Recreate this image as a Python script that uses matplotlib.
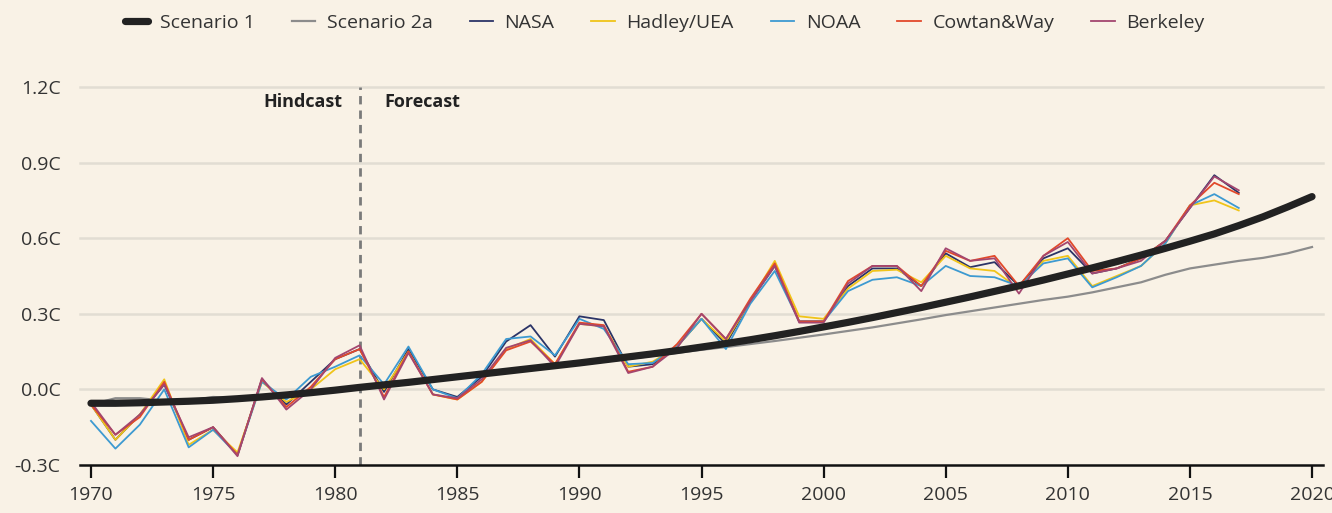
import matplotlib
matplotlib.use("Agg")
import matplotlib.pyplot as plt

plt.rcParams['font.family'] = ['Open Sans', 'DejaVu Sans']

years_obs = list(range(1970, 2018))
years_model = list(range(1970, 2021))

scenario_1 = [-0.055, -0.055, -0.053, -0.050, -0.047, -0.043, -0.037, -0.030, -0.022, -0.013,
              -0.003, 0.008, 0.018, 0.028, 0.039, 0.050, 0.061, 0.072, 0.083, 0.094,
              0.105, 0.117, 0.129, 0.141, 0.154, 0.168, 0.182, 0.197, 0.213, 0.230,
              0.248, 0.266, 0.285, 0.305, 0.325, 0.346, 0.367, 0.389, 0.411, 0.434,
              0.458, 0.482, 0.507, 0.533, 0.560, 0.588, 0.617, 0.650, 0.685, 0.724,
              0.765]

scenario_2a = [-0.060, -0.035, -0.035, -0.045, -0.045, -0.030, -0.035, -0.030, -0.020, -0.012,
               -0.003, 0.007, 0.016, 0.026, 0.036, 0.046, 0.056, 0.066, 0.077, 0.088,
               0.099, 0.110, 0.121, 0.133, 0.145, 0.157, 0.168, 0.180, 0.192, 0.205,
               0.218, 0.232, 0.246, 0.262, 0.278, 0.295, 0.310, 0.325, 0.340, 0.355,
               0.368, 0.385, 0.405, 0.425, 0.455, 0.480, 0.495, 0.510, 0.522, 0.540,
               0.565]

nasa = [-0.06, -0.20, -0.10, 0.02, -0.20, -0.15, -0.26, 0.04, -0.06, 0.03,
        0.12, 0.16, -0.01, 0.16, 0.00, -0.03, 0.05, 0.19, 0.255, 0.13,
        0.29, 0.275, 0.09, 0.10, 0.17, 0.28, 0.18, 0.35, 0.49, 0.27,
        0.27, 0.41, 0.48, 0.48, 0.41, 0.54, 0.485, 0.505, 0.41, 0.52,
        0.56, 0.46, 0.48, 0.52, 0.59, 0.72, 0.85, 0.78]

hadley = [-0.06, -0.20, -0.10, 0.04, -0.22, -0.16, -0.25, 0.03, -0.05, 0.00,
          0.08, 0.12, 0.00, 0.15, -0.02, -0.04, 0.03, 0.16, 0.20, 0.10,
          0.26, 0.25, 0.09, 0.11, 0.17, 0.28, 0.19, 0.35, 0.51, 0.29,
          0.28, 0.40, 0.47, 0.475, 0.425, 0.53, 0.48, 0.47, 0.40, 0.51,
          0.53, 0.41, 0.45, 0.49, 0.58, 0.73, 0.75, 0.71]

noaa = [-0.125, -0.235, -0.14, 0.00, -0.23, -0.16, -0.26, 0.03, -0.04, 0.05,
        0.09, 0.135, 0.02, 0.17, 0.00, -0.035, 0.06, 0.20, 0.21, 0.135,
        0.28, 0.24, 0.10, 0.105, 0.17, 0.28, 0.16, 0.34, 0.47, 0.27,
        0.27, 0.39, 0.435, 0.445, 0.41, 0.49, 0.45, 0.445, 0.41, 0.50,
        0.52, 0.405, 0.445, 0.49, 0.58, 0.73, 0.775, 0.72]

cowtan_way = [-0.06, -0.18, -0.11, 0.03, -0.20, -0.15, -0.26, 0.04, -0.07, 0.01,
              0.12, 0.16, -0.03, 0.15, -0.02, -0.04, 0.03, 0.155, 0.19, 0.10,
              0.265, 0.255, 0.07, 0.09, 0.18, 0.30, 0.20, 0.36, 0.50, 0.27,
              0.27, 0.43, 0.49, 0.49, 0.41, 0.55, 0.51, 0.53, 0.41, 0.53,
              0.60, 0.47, 0.48, 0.52, 0.59, 0.73, 0.82, 0.775]

berkeley = [-0.05, -0.18, -0.10, 0.02, -0.19, -0.15, -0.265, 0.045, -0.08, 0.00,
            0.125, 0.175, -0.04, 0.145, -0.02, -0.035, 0.04, 0.165, 0.195, 0.09,
            0.26, 0.25, 0.065, 0.09, 0.165, 0.30, 0.20, 0.35, 0.49, 0.265,
            0.265, 0.42, 0.49, 0.49, 0.39, 0.56, 0.51, 0.52, 0.38, 0.53,
            0.585, 0.46, 0.48, 0.51, 0.59, 0.72, 0.845, 0.79]

observed = [
    ("NASA", nasa, "#2b3467"),
    ("Hadley/UEA", hadley, "#f0c419"),
    ("NOAA", noaa, "#3d9ad1"),
    ("Cowtan&Way", cowtan_way, "#e2492b"),
    ("Berkeley", berkeley, "#a3466f"),
]

y_ticks = [-0.3, 0.0, 0.3, 0.6, 0.9, 1.2]
y_tick_labels = ["-0.3C", "0.0C", "0.3C", "0.6C", "0.9C", "1.2C"]
x_ticks = [1970, 1975, 1980, 1985, 1990, 1995, 2000, 2005, 2010, 2015, 2020]
split_year = 1981

bg = "#f9f2e6"
W, H = 1332, 513
fig = plt.figure(figsize=(W / 100, H / 100), dpi=100, facecolor=bg)
ax = fig.add_axes([80 / W, (H - 465) / H, (1323 - 80) / W, (465 - 87) / H], facecolor=bg)

ax.set_xlim(1969.55, 2020.45)
ax.set_ylim(-0.3, 1.2)

for yv in y_ticks[1:]:
    ax.axhline(yv, color="#e2ddd3", lw=1.8, zorder=1, clip_on=False)

ax.axvline(split_year, color="#7a7a7a", lw=2, ls=(0, (3, 2.2)), zorder=2, ymax=1.0)

handles = []
h1, = ax.plot(years_model, scenario_1, color="#222222", lw=5.2, solid_capstyle="round",
              zorder=6, label="Scenario 1")
h2, = ax.plot(years_model, scenario_2a, color="#8c8c8c", lw=1.6, zorder=3, label="Scenario 2a")
handles += [h1, h2]
for name, vals, col in observed:
    h, = ax.plot(years_obs, vals, color=col, lw=1.3, zorder=4, label=name)
    handles.append(h)

for s in ["top", "right", "left"]:
    ax.spines[s].set_visible(False)
ax.spines["bottom"].set_color("#111111")
ax.spines["bottom"].set_linewidth(1.8)

ax.set_yticks(y_ticks)
ax.set_yticklabels(y_tick_labels)
ax.tick_params(axis="y", length=0, pad=14, labelsize=14, labelcolor="#333333")
ax.set_xticks(x_ticks)
ax.tick_params(axis="x", length=9, width=1.6, color="#111111", pad=6,
               labelsize=14, labelcolor="#333333")

ax.text(split_year - 0.7, 1.14, "Hindcast", ha="right", va="center",
        fontsize=13, fontweight="bold", color="#222222")
ax.text(split_year + 1.0, 1.14, "Forecast", ha="left", va="center",
        fontsize=13, fontweight="bold", color="#222222")

leg = fig.legend(handles=handles, loc="center", bbox_to_anchor=(0.499, 1 - 23 / H),
                 ncol=7, frameon=False, fontsize=14, handlelength=1.2,
                 handletextpad=0.6, columnspacing=1.9)
for t in leg.get_texts():
    t.set_color("#333333")

fig.savefig("out.png", dpi=100, facecolor=bg)
